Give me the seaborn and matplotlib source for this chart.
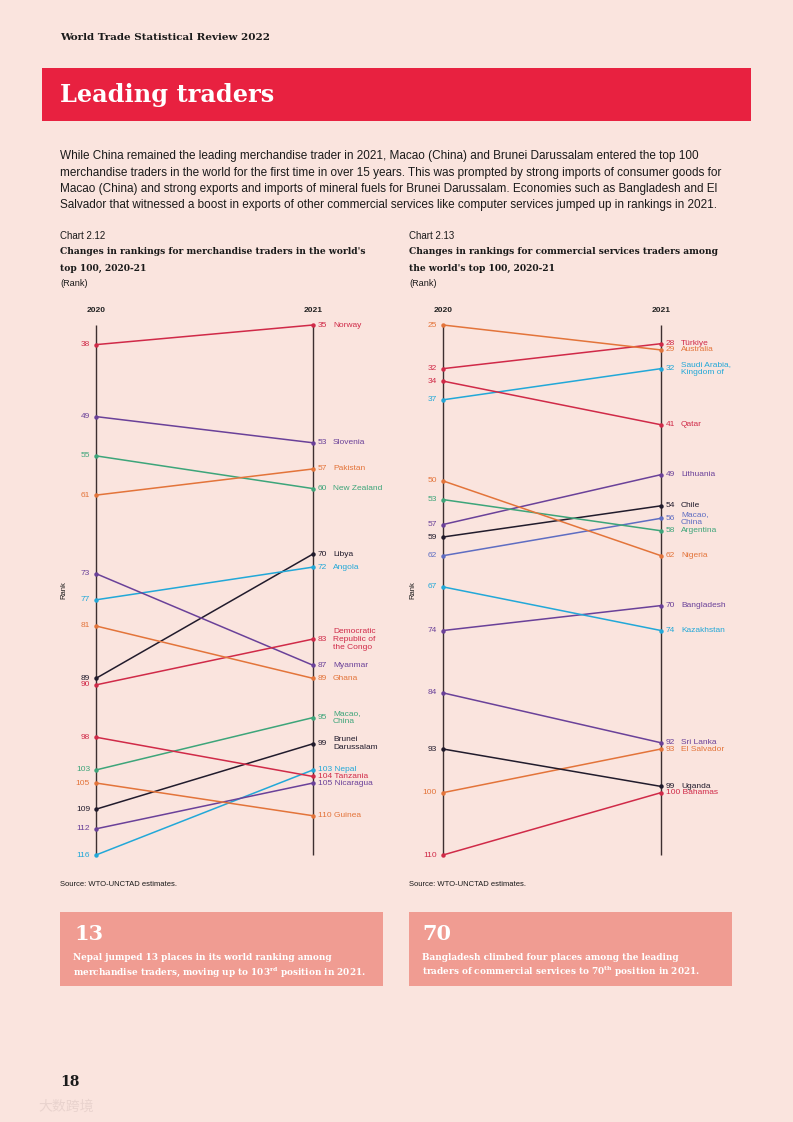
import matplotlib
matplotlib.use('Agg')
import matplotlib.pyplot as plt
from matplotlib.patches import Rectangle
import seaborn as sns
import pandas as pd

sns.set_theme(style='white')
plt.rcParams['font.family'] = ['Liberation Sans', 'DejaVu Sans']
plt.rcParams['mathtext.fontset'] = 'dejavuserif'

# ---------------- data ----------------
merch_countries = ['Norway', 'Slovenia', 'New Zealand', 'Pakistan', 'Libya', 'Angola', 'Myanmar',
                   'Democratic\nRepublic of\nthe Congo', 'Ghana', 'Macao,\nChina', 'Brunei\nDarussalam',
                   'Nepal', 'Tanzania', 'Nicaragua', 'Guinea']
merch_2020 = [38, 49, 55, 61, 89, 77, 73, 90, 81, 103, 109, 116, 98, 112, 105]
merch_2021 = [35, 53, 60, 57, 70, 72, 87, 83, 89, 95, 99, 103, 104, 105, 110]

serv_countries = ['Türkiye', 'Australia', 'Saudi Arabia,\nKingdom of', 'Qatar', 'Lithuania', 'Chile',
                  'Macao,\nChina', 'Argentina', 'Nigeria', 'Bangladesh', 'Kazakhstan', 'Sri Lanka',
                  'El Salvador', 'Uganda', 'Bahamas']
serv_2020 = [32, 25, 37, 34, 57, 59, 62, 53, 50, 74, 67, 84, 100, 93, 110]
serv_2021 = [28, 29, 32, 41, 49, 54, 56, 58, 62, 70, 74, 92, 93, 99, 100]

years = ['2020', '2021']

# ---------------- style ----------------
BG = '#FAE4DE'
RED = '#D02A48'
PURPLE = '#6A4199'
GREEN = '#3DA57A'
ORANGE = '#E3743A'
CYAN = '#22A8D8'
BLACK = '#211B2C'
BLUE = '#5E6DC2'
AXC = '#3D2F30'

merch_colors = [RED, PURPLE, GREEN, ORANGE, BLACK, CYAN, PURPLE, RED, ORANGE, GREEN, BLACK, CYAN,
                RED, PURPLE, ORANGE]
serv_colors = [RED, ORANGE, CYAN, RED, PURPLE, BLACK, BLUE, GREEN, ORANGE, PURPLE, CYAN, PURPLE,
               ORANGE, BLACK, RED]

W, H = 793, 1122
fig = plt.figure(figsize=(W / 100, H / 100), dpi=100, facecolor=BG)


def fx(x):
    return x / W


def fy(y):
    return 1 - y / H


def ftext(x, y, s, **kw):
    kw.setdefault('va', 'center')
    kw.setdefault('ha', 'left')
    fig.text(fx(x), fy(y), s, **kw)


def rect(x0, y0, x1, y1, color):
    fig.patches.append(Rectangle((fx(x0), fy(y1)), fx(x1) - fx(x0), fy(y0) - fy(y1),
                                 transform=fig.transFigure, facecolor=color, edgecolor='none',
                                 zorder=0))


SERIF = ['DejaVu Serif']

# header
ftext(60, 38, 'World Trade Statistical Review 2022', family=SERIF, fontsize=7.5, color='#1a1a1a',
      fontweight='semibold')
rect(42, 68, 751, 121, '#E82140')
ftext(60, 95, 'Leading traders', family=SERIF, fontsize=17.3, color='white', fontweight='bold')

para = ["While China remained the leading merchandise trader in 2021, Macao (China) and Brunei Darussalam entered the top 100",
        "merchandise traders in the world for the first time in over 15 years. This was prompted by strong imports of consumer goods for",
        "Macao (China) and strong exports and imports of mineral fuels for Brunei Darussalam. Economies such as Bangladesh and El",
        "Salvador that witnessed a boost in exports of other commercial services like computer services jumped up in rankings in 2021."]
for i, line in enumerate(para):
    ftext(60, 156.5 + i * 16.2, line, fontsize=8.45, color='#1a1a1a')


def chart_header(x, num, l1, l2):
    ftext(x, 236, num, fontsize=7.0, color='#1a1a1a')
    ftext(x, 252, l1, family=SERIF, fontsize=6.6, fontweight='bold', color='#1a1a1a')
    ftext(x, 268, l2, family=SERIF, fontsize=6.6, fontweight='bold', color='#1a1a1a')
    ftext(x, 284, '(Rank)', fontsize=6.6, color='#1a1a1a')
    ftext(x, 884, 'Source: WTO-UNCTAD estimates.', fontsize=5.5, color='#1a1a1a')


chart_header(60, 'Chart 2.12', "Changes in rankings for merchandise traders in the world's", 'top 100, 2020-21')
chart_header(409, 'Chart 2.13', 'Changes in rankings for commercial services traders among',
             "the world's top 100, 2020-21")


def slope(x0, x1, countries, r20, r21, colors):
    top, bot = 325, 855
    ax = fig.add_axes([fx(x0), fy(bot), fx(x1) - fx(x0), fy(top) - fy(bot)])
    ax.set_facecolor('none')
    n = len(countries)
    df = pd.DataFrame({'country': countries * 2,
                       'year': [0] * n + [1] * n,
                       'rank': r20 + r21})
    pal = dict(zip(countries, colors))
    ymin = min(r20 + r21)
    ymax = max(r20 + r21)
    ax.vlines([0, 1], ymin, ymax, color=AXC, lw=1.0, zorder=1, clip_on=False)
    sns.lineplot(data=df, x='year', y='rank', hue='country', palette=pal, legend=False, ax=ax,
                 estimator=None, sort=False, lw=1.1, marker='o', markersize=3.2,
                 markeredgewidth=0, clip_on=False, zorder=3)
    ax.set_xlim(0, 1)
    ax.set_ylim(ymax, ymin)
    ax.axis('off')
    for c, a, b, col in zip(countries, r20, r21, colors):
        ax.annotate(str(a), (0, a), xytext=(-4.3, 0), textcoords='offset points',
                    ha='right', va='center', fontsize=6, color=col)
        if b >= 100 and '\n' not in c:
            ax.annotate(f'{b} {c}', (1, b), xytext=(3.6, 0), textcoords='offset points',
                        ha='left', va='center', fontsize=6, color=col)
        else:
            ax.annotate(str(b), (1, b), xytext=(3.6, 0), textcoords='offset points',
                        ha='left', va='center', fontsize=6, color=col)
            ax.annotate(c, (1, b), xytext=(14.4, 0), textcoords='offset points',
                        ha='left', va='center', fontsize=6, color=col, linespacing=1.2)
    yl = 1 + 11 / (bot - top)
    ax.text(0, yl, years[0], transform=ax.transAxes, ha='center', va='bottom', fontsize=6,
            color='#222222', fontweight='bold')
    ax.text(1, yl, years[1], transform=ax.transAxes, ha='center', va='bottom', fontsize=6,
            color='#222222', fontweight='bold')
    return ax


slope(96, 313, merch_countries, merch_2020, merch_2021, merch_colors)
slope(443, 661, serv_countries, serv_2020, serv_2021, serv_colors)

ftext(64, 590, 'Rank', fontsize=5.5, rotation=90, ha='center', color='#1a1a1a')
ftext(413, 590, 'Rank', fontsize=5.5, rotation=90, ha='center', color='#1a1a1a')

# callout boxes
BOX = '#F09C92'
rect(60, 912, 383, 986, BOX)
rect(409, 912, 732, 986, BOX)
ftext(74, 934, '13', family=SERIF, fontsize=15, fontweight='bold', color='white')
ftext(73, 958, 'Nepal jumped 13 places in its world ranking among', family=SERIF, fontsize=6.4,
      fontweight='bold', color='white')
ftext(73, 972, r'merchandise traders, moving up to 103$^{\mathbf{rd}}$ position in 2021.', family=SERIF,
      fontsize=6.4, fontweight='bold', color='white')
ftext(422, 934, '70', family=SERIF, fontsize=15, fontweight='bold', color='white')
ftext(422, 958, 'Bangladesh climbed four places among the leading', family=SERIF, fontsize=6.4,
      fontweight='bold', color='white')
ftext(422, 972, r'traders of commercial services to 70$^{\mathbf{th}}$ position in 2021.', family=SERIF,
      fontsize=6.4, fontweight='bold', color='white')

ftext(60, 1082, '18', family=SERIF, fontsize=10, fontweight='bold', color='#1a1a1a')
ftext(38, 1107, '大数跨境', family=['Noto Sans CJK SC', 'DejaVu Sans'], fontsize=10, color='#E9D3CE')

fig.savefig('out.png', dpi=100, facecolor=BG)
